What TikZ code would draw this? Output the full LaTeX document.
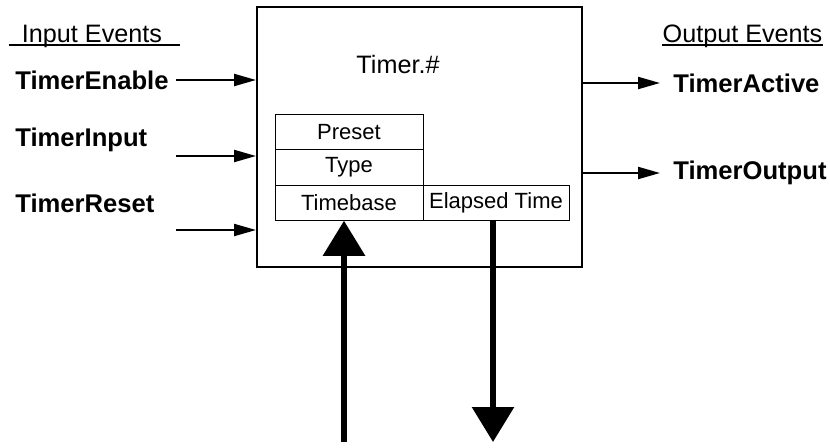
\documentclass[tikz,border=0pt]{standalone}
\usepackage{fontspec}
\setmainfont{Liberation Sans}
\usetikzlibrary{arrows.meta,positioning}

\begin{document}
\begin{tikzpicture}[
    x=0.5pt, y=0.5pt,
    block/.style={rectangle, draw, line width=1pt, minimum width=162.5pt, minimum height=130pt},
    cell/.style={rectangle, draw, line width=0.5pt, outer sep=0pt, inner sep=0pt, minimum width=74pt, minimum height=17.75pt, font=\fontsize{11}{13}\selectfont},
    event/.style={inner sep=0pt, anchor=west, font=\fontsize{12.8}{15}\selectfont\bfseries},
    heading/.style={inner sep=0pt, anchor=base, font=\fontsize{12.6}{15}\selectfont},
    arrow/.style={line width=1.1pt, -{Triangle[length=11pt,width=6pt]}},
    bigarrow/.style={line width=3pt, -{Triangle[length=17.5pt,width=20.5pt]}}
  ]
  \useasboundingbox (0,0) rectangle (830,447);

  % Function block
  \node[block] (timer) at (419.5,310) {};
  \node[font=\fontsize{12.6}{15}\selectfont] (name) at (398,383) {Timer.\#};

  % Parameter table
  \node[cell] (preset) at (349,315) {Preset};
  \node[cell, below=0pt of preset] (type) {Type};
  \node[cell, below=0pt of type] (timebase) {Timebase};
  \node[cell, right=0pt of timebase, minimum width=73pt] (elapsed) {Elapsed Time};

  % Headings
  \node[heading] (inhead) at (92,405) {Input Events};
  \node[heading] (outhead) at (742.5,405) {Output Events};
  \draw[line width=0.75pt] ([shift={(-6.5pt,-1.5pt)}]inhead.base west) -- ([shift={(9pt,-1.5pt)}]inhead.base east);
  \draw[line width=0.75pt] ([yshift=-1.5pt]outhead.base west) -- ([yshift=-1.5pt]outhead.base east);

  % Input events
  \node[event] (enable) at (15,367) {TimerEnable};
  \node[event] (input) at (15,307) {TimerInput};
  \node[event] (reset) at (15,244) {TimerReset};
  \coordinate (enablefrom) at (176,367);
  \coordinate (inputfrom) at (176,291);
  \coordinate (resetfrom) at (176,217);
  \draw[arrow] (enablefrom) -- (enablefrom -| timer.west);
  \draw[arrow] (inputfrom) -- (inputfrom -| timer.west);
  \draw[arrow] (resetfrom) -- (resetfrom -| timer.west);

  % Output events
  \node[event] (active) at (673,364) {TimerActive};
  \node[event] (output) at (673,274) {TimerOutput};
  \draw[arrow] (timer.east |- active.west) -- ([xshift=-6.5pt]active.west);
  \draw[arrow] (timer.east |- output.west) -- ([xshift=-6.5pt]output.west);

  % Data in and out
  \coordinate (upfrom) at (344,5);
  \coordinate (downto) at (493,5);
  \draw[bigarrow] (upfrom) -- (upfrom |- timebase.south);
  \draw[bigarrow] (downto |- elapsed.south) -- (downto);

\end{tikzpicture}
\end{document}
